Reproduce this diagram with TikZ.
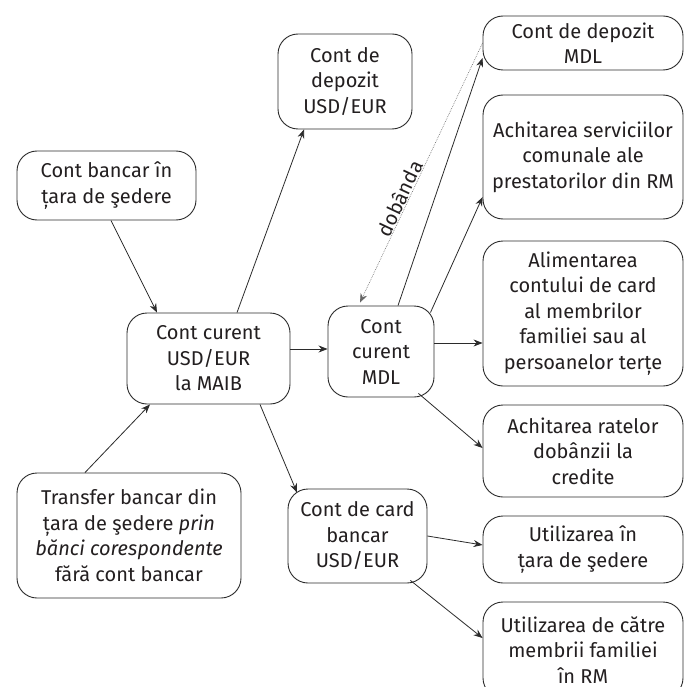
\documentclass[tikz,border=0pt]{standalone}
\usepackage{fontspec}
\setmainfont{Fira Sans}
\usetikzlibrary{arrows.meta}
\definecolor{linec}{HTML}{2B2B2B}
\definecolor{textc}{HTML}{231F20}
\begin{document}
\begin{tikzpicture}[x=1pt,y=-1pt,
  box/.style={draw=linec, line width=0.9pt, rounded corners=20pt, align=center,
    inner sep=0pt, text=textc, font=\fontsize{20}{25.5}\selectfont},
  arr/.style={draw=linec, line width=0.8pt, -{Stealth[length=9pt,width=7pt]}},
  dotarr/.style={draw=black!60, line width=0.6pt, dash pattern=on 0.7pt off 1.1pt, -{Stealth[length=9pt,width=7pt]}},
  lbl/.style={text=textc, font=\fontsize{20}{24}\selectfont, inner sep=0pt}]
\useasboundingbox (0,0) rectangle (684,687);
\fill[white] (0,0) rectangle (684,687);

% left column
\node[box, minimum width=179pt, minimum height=69pt] (bancar) at (106.5,185.5) {Cont bancar în\\țara de şedere};
\node[box, minimum width=163pt, minimum height=91pt] (curUSD) at (208.5,358.5) {Cont curent\\USD/EUR\\la MAIB};
\node[box, minimum width=224pt, minimum height=125pt] (transfer) at (129,535.5) {Transfer bancar din\\țara de şedere \textit{prin}\\\textit{bănci corespondente}\\fără cont bancar};

% middle column
\node[box, minimum width=134pt, minimum height=95pt] (depUSD) at (345,81.5) {Cont de\\depozit\\USD/EUR};
\node[box, minimum width=106pt, minimum height=91pt] (curMDL) at (381,351.5) {Cont\\curent\\MDL};
\node[box, minimum width=139pt, minimum height=94pt] (card) at (357.5,536) {Cont de card\\bancar\\USD/EUR};

% right column
\node[box, minimum width=200pt, minimum height=54pt] (depMDL) at (583,43) {Cont de depozit\\MDL};
\node[box, minimum width=200pt, minimum height=124pt] (serv) at (583,157) {Achitarea serviciilor\\comunale ale\\prestatorilor din RM};
\node[box, minimum width=200pt, minimum height=145pt] (alim) at (583,313.5) {Alimentarea\\contului de card\\al membrilor\\familiei sau al\\persoanelor terțe};
\node[box, minimum width=200pt, minimum height=92pt] (rate) at (583,451) {Achitarea ratelor\\dobânzii la\\credite};
\node[box, minimum width=200pt, minimum height=67pt] (utilIn) at (583,549.5) {Utilizarea în\\țara de şedere};
\node[box, minimum width=200pt, minimum height=96pt] (utilRM) at (583,650) {Utilizarea de către\\membrii familiei\\în RM};

% connectors
\draw[arr] ([xshift=4.5pt]bancar.south) -- ([xshift=-51.5pt]curUSD.north);
\draw[arr] ([xshift=-44pt]transfer.north) -- ([xshift=-58.5pt]curUSD.south);
\draw[arr] ([xshift=28.5pt]curUSD.north) -- ([xshift=-41pt]depUSD.south);
\draw[arr] ([yshift=9.5pt]curUSD.east) -- ([yshift=9.5pt]curUSD.east -| curMDL.west);
\draw[arr] ([xshift=51.5pt]curUSD.south) -- ([xshift=-60.5pt,yshift=-4pt]card.north);

\draw[arr] ([xshift=17pt]curMDL.north) -- ([yshift=-15pt]depMDL.west);
\draw[dotarr] (depMDL.west) -- ([xshift=-21pt,yshift=3pt]curMDL.north);
\node[lbl, rotate=64.8, anchor=base] (dob) at (406.5,201.5) {dobânda};
\draw[arr] ([xshift=-4pt,yshift=-7pt]curMDL.north east) -- ([yshift=-40pt]serv.west);
\draw[arr] ([yshift=8.5pt]curMDL.east) -- ([yshift=8.5pt]curMDL.east -| alim.west);
\draw[arr] ([xshift=-16pt,yshift=4pt]curMDL.south east) -- ([yshift=3pt]rate.west);

\draw[arr] (card.east) -- ([yshift=4.5pt]utilIn.west);
\draw[arr] ([xshift=-17pt,yshift=3pt]card.south east) -- ([yshift=12pt]utilRM.west);
\end{tikzpicture}
\end{document}
